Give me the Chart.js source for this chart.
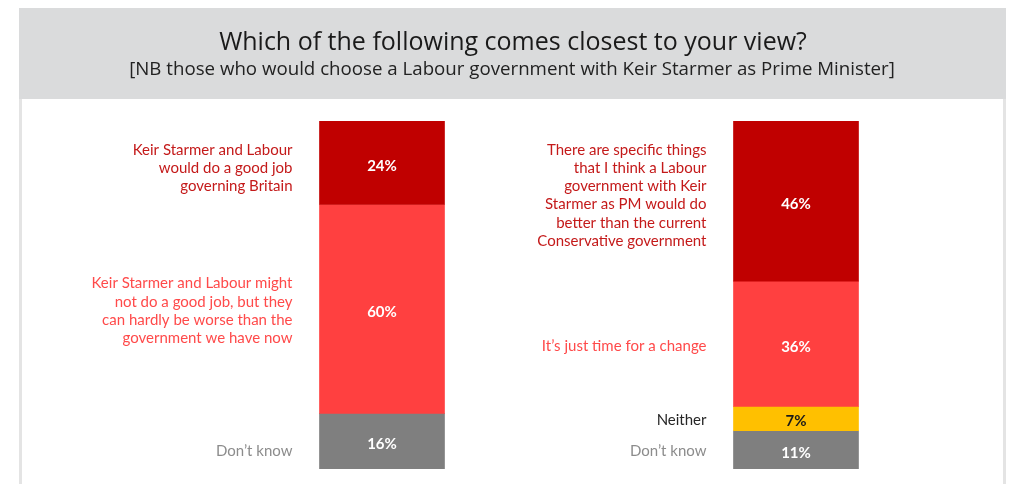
<!DOCTYPE html>
<html>
<head>
<meta charset="utf-8">
<script src="https://cdn.jsdelivr.net/npm/chart.js@4"></script>
<style>
  html, body { margin: 0; padding: 0; background: #ffffff; }
  #wrap { width: 1011px; height: 484px; position: relative; }
</style>
</head>
<body>
<div id="wrap"><canvas id="c" width="1011" height="484"></canvas></div>
<script>
// ---- Data ----
const categories = ['Job assessment', 'Reason for choice'];
const seriesGood = [24, 46];
const seriesNotWorse = [60, 36];
const seriesNeither = [null, 7];
const seriesDontKnow = [16, 11];

const labelsGood = [
  ['Keir Starmer and Labour', 'would do a good job', 'governing Britain'],
  ['There are specific things', 'that I think a Labour', 'government with Keir', 'Starmer as PM would do', 'better than the current', 'Conservative government']
];
const labelsNotWorse = [
  ['Keir Starmer and Labour might', 'not do a good job, but they', 'can hardly be worse than the', 'government we have now'],
  ['It\u2019s just time for a change']
];
const labelsNeither = [null, ['Neither']];
const labelsDontKnow = [['Don\u2019t know'], ['Don\u2019t know']];

const titleText = 'Which of the following comes closest to your view?';
const subtitleText = '[NB those who would choose a Labour government with Keir Starmer as Prime Minister]';

// ---- Styles ----
const FONT = 'Lato, "Open Sans", sans-serif';
const TITLE_FONT = '"Open Sans", Lato, sans-serif';
const datasetsDef = [
  { data: seriesGood, names: labelsGood, color: '#c00000', textColor: '#c41a1a', valueColor: '#ffffff', anchor: 'top' },
  { data: seriesNotWorse, names: labelsNotWorse, color: '#ff4040', textColor: '#ff4a4a', valueColor: '#ffffff', anchor: 'center' },
  { data: seriesNeither, names: labelsNeither, color: '#ffc000', textColor: '#262626', valueColor: '#1a1a1a', anchor: 'center' },
  { data: seriesDontKnow, names: labelsDontKnow, color: '#7f7f7f', textColor: '#8c8c8c', valueColor: '#ffffff', anchor: 'bottom' }
];

const backgroundPlugin = {
  id: 'panel',
  beforeDraw(chart) {
    const ctx = chart.ctx;
    ctx.save();
    ctx.fillStyle = '#ffffff';
    ctx.fillRect(0, 0, chart.width, chart.height);
    // header band
    ctx.fillStyle = '#dadbdc';
    ctx.fillRect(19, 8, 987, 91);
    // side borders of the panel
    ctx.fillStyle = '#e4e4e4';
    ctx.fillRect(19, 99, 3, chart.height - 99);
    ctx.fillRect(1003, 99, 3, chart.height - 99);
    // title and subtitle
    ctx.textAlign = 'center';
    ctx.textBaseline = 'middle';
    ctx.fillStyle = '#1a1a1a';
    ctx.font = '25px ' + TITLE_FONT;
    ctx.fillText(titleText, 513, 43);
    ctx.fillStyle = '#222222';
    ctx.font = '18.7px ' + TITLE_FONT;
    ctx.fillText(subtitleText, 512, 70);
    ctx.restore();
  }
};

const labelPlugin = {
  id: 'segLabels',
  afterDatasetsDraw(chart) {
    const ctx = chart.ctx;
    ctx.save();
    chart.data.datasets.forEach((ds, di) => {
      const meta = chart.getDatasetMeta(di);
      const def = datasetsDef[di];
      meta.data.forEach((bar, i) => {
        const v = ds.data[i];
        if (v === null || v === undefined) return;
        const p = bar.getProps(['x', 'y', 'base', 'width'], true);
        const top = Math.min(p.y, p.base);
        const bottom = Math.max(p.y, p.base);
        const cy = (top + bottom) / 2;
        // value label
        ctx.fillStyle = def.valueColor;
        ctx.font = 'bold 15px ' + FONT;
        ctx.textAlign = 'center';
        ctx.textBaseline = 'middle';
        ctx.fillText(v + '%', p.x, cy + 3);
        // category text
        const lines = def.names[i];
        if (!lines) return;
        ctx.fillStyle = def.textColor;
        ctx.font = '15px ' + FONT;
        ctx.textAlign = 'right';
        const lh = 18.2;
        let startY;
        if (def.anchor === 'top') startY = top + 29;
        else if (def.anchor === 'bottom') startY = bottom - 18 - (lines.length - 1) * lh;
        else startY = cy + 2 - (lines.length - 1) * lh / 2;
        const rx = p.x - p.width / 2 - 27;
        lines.forEach((ln, k) => ctx.fillText(ln, rx, startY + k * lh));
      });
    });
    ctx.restore();
  }
};

new Chart(document.getElementById('c'), {
  type: 'bar',
  data: {
    labels: categories,
    datasets: datasetsDef.map(d => ({
      data: d.data,
      backgroundColor: d.color,
      borderWidth: 0,
      barThickness: 125
    }))
  },
  options: {
    responsive: false,
    animation: false,
    events: [],
    layout: { padding: { left: 175, right: 8, top: 121, bottom: 15 } },
    scales: {
      x: { stacked: true, display: false },
      y: { stacked: true, display: false, min: 0, max: 100, reverse: true }
    },
    plugins: {
      legend: { display: false },
      tooltip: { enabled: false },
      title: { display: false }
    }
  },
  plugins: [backgroundPlugin, labelPlugin]
});
</script>
</body>
</html>
